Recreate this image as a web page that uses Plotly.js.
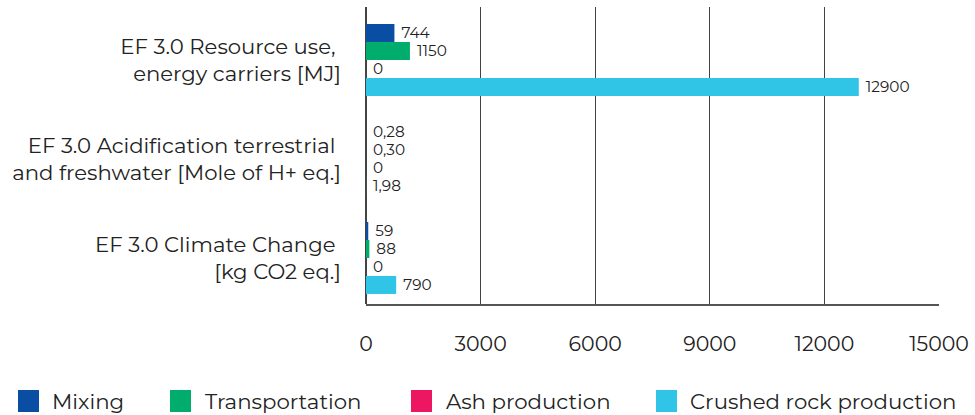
<!DOCTYPE html>
<html><head><meta charset="utf-8">
<script src="https://cdn.plot.ly/plotly-3.0.1.min.js"></script>
<style>html,body{margin:0;padding:0;background:#fff;}</style>
</head><body>
<div id="chart" style="width:975px;height:415px;"></div>
<script>
const categories = [
  "EF 3.0 Resource use,<br>energy carriers [MJ]",
  "EF 3.0 Acidification terrestrial<br>and freshwater [Mole of H+ eq.]",
  "EF 3.0 Climate Change<br>[kg CO2 eq.]"
];
const seriesNames = ["Mixing", "Transportation", "Ash production", "Crushed rock production"];
const mixing = [744, 0.28, 59];
const transportation = [1150, 0.30, 88];
const ashProduction = [0, 0, 0];
const crushedRock = [12900, 1.98, 790];
const colors = ["#0a4ea3", "#00ad6c", "#ec1760", "#30c4e6"];
const xTicks = [0, 3000, 6000, 9000, 12000, 15000];

const fmt = v => (v > 0 && v < 10) ? v.toFixed(2).replace('.', ',') : String(v);
const font = "Montserrat, 'DejaVu Sans', sans-serif";

const all = [mixing, transportation, ashProduction, crushedRock];
const traces = all.map((vals, i) => ({
  type: 'bar',
  orientation: 'h',
  name: seriesNames[i],
  y: categories,
  x: vals,
  text: vals.map(v => ' ' + fmt(v)),
  textposition: 'outside',
  cliponaxis: false,
  textfont: {family: font, size: 17, color: '#222'},
  marker: {color: colors[i]},
  hoverinfo: 'x+name',
  showlegend: false
}));

// plot area in pixels (for legend placement)
const L = 366, R = 939, T = 7, B = 304, W = 975, H = 415;
const px2x = p => (p - L) / (R - L);
const py2y = p => (B - p) / (B - T);

// custom legend: swatch left edges and text left edges (pixels)
const legendSwatchX = [18, 170, 411, 656];
const legendTextX = [50, 203, 444, 688];
const legendY = 401;
const shapes = seriesNames.map((n, i) => ({
  type: 'rect', xref: 'paper', yref: 'paper',
  x0: px2x(legendSwatchX[i]), x1: px2x(legendSwatchX[i] + 21),
  y0: py2y(legendY - 11), y1: py2y(legendY + 11),
  fillcolor: colors[i], line: {width: 0}
}));
const annotations = seriesNames.map((n, i) => ({
  text: n, xref: 'paper', yref: 'paper',
  x: px2x(legendTextX[i]), y: py2y(legendY),
  xanchor: 'left', yanchor: 'middle', showarrow: false,
  font: {family: font, size: 21.3, color: '#222'}
}));

const tickText = categories.map(c => c.replace('<br>', '\u00a0<br>'));

const layout = {
  width: W, height: H,
  margin: {l: L, r: W - R, t: T, b: H - B, autoexpand: false},
  paper_bgcolor: '#fff', plot_bgcolor: '#fff',
  barmode: 'group',
  bargap: 0.273, bargroupgap: 0,
  font: {family: font, size: 20, color: '#222'},
  showlegend: false,
  shapes: shapes,
  annotations: annotations,
  xaxis: {
    range: [0, 15000], tickvals: xTicks, ticktext: xTicks.map(String),
    showgrid: true, gridcolor: '#444', gridwidth: 1.3,
    zeroline: true, zerolinecolor: '#444', zerolinewidth: 1.3,
    showline: true, linecolor: '#555', linewidth: 1.5,
    ticks: '', ticklabelstandoff: 21,
    tickfont: {family: font, size: 20.5, color: '#222'}
  },
  yaxis: {
    type: 'category',
    categoryorder: 'array', categoryarray: categories,
    tickvals: categories, ticktext: tickText,
    range: [2.465, -0.535],
    showgrid: false, zeroline: false, showline: false,
    ticks: '', ticklabelstandoff: 24,
    tickfont: {family: font, size: 21.2, color: '#222'}
  }
};

Plotly.newPlot('chart', traces, layout, {displayModeBar: false, staticPlot: true});
</script>
</body></html>
